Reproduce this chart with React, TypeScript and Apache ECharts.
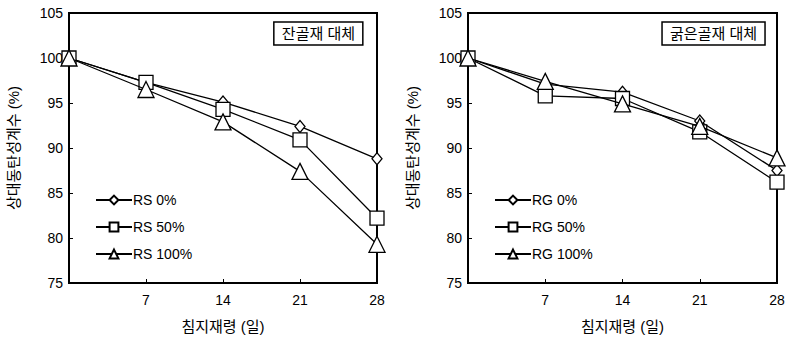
import React, { useEffect, useRef } from "react";
import * as echarts from "echarts";

const days = [0, 7, 14, 21, 28];
const rs0 = [100, 97.3, 95.1, 92.4, 88.8];
const rs50 = [100, 97.3, 94.3, 90.9, 82.2];
const rs100 = [100, 96.5, 92.9, 87.4, 79.3];
const rg0 = [100, 97.1, 96.2, 93.0, 87.5];
const rg50 = [100, 95.8, 95.5, 91.8, 86.2];
const rg100 = [100, 97.4, 94.9, 92.4, 88.9];
const leftNames = ["RS 0%", "RS 50%", "RS 100%"];
const rightNames = ["RG 0%", "RG 50%", "RG 100%"];
const panelTitles = ["잔골재 대체", "굵은골재 대체"];
const yName = "상대동탄성계수 (%)";
const xName = "침지재령 (일)";

const FONT = "'Liberation Sans', 'Noto Sans CJK KR', sans-serif";

export default function App() {
  const ref = useRef<HTMLDivElement>(null);
  useEffect(() => {
    if (!ref.current) return;
    const chart = echarts.init(ref.current, undefined, { renderer: "svg" });
    const symbols = ["diamond", "rect", "triangle"];
    const sizes: any[] = [[10, 12], 14, 16];
    const mk = (name: string, vals: number[], i: number, idx: number) => ({
      type: "line",
      name,
      xAxisIndex: idx,
      yAxisIndex: idx,
      data: days.map((d, k) => [d, vals[k]]),
      symbol: symbols[i],
      symbolSize: sizes[i],
      showAllSymbol: true,
      lineStyle: { color: "#000", width: 1.3 },
      itemStyle: { color: "#fff", borderColor: "#000", borderWidth: 1.3 },
      z: 3 + i,
    });
    const grids = [
      { left: 69, right: 415, top: 13, bottom: 59 },
      { left: 468, right: 15, top: 13, bottom: 59 },
    ];
    const xAxis = grids.map((_, i) => ({
      type: "value",
      gridIndex: i,
      min: 0,
      max: 28,
      interval: 7,
      name: xName,
      nameLocation: "middle",
      nameGap: 36,
      nameTextStyle: { color: "#000", fontSize: 15, fontFamily: FONT },
      axisLine: { lineStyle: { color: "#000", width: 2 } },
      axisTick: { inside: true, length: 4, lineStyle: { color: "#000" } },
      axisLabel: {
        color: "#000",
        fontSize: 14,
        fontFamily: FONT,
        margin: 10,
        formatter: (v: number) => (v === 0 ? "" : String(v)),
      },
      splitLine: { show: false },
    }));
    const yAxis = grids.map((_, i) => ({
      type: "value",
      gridIndex: i,
      min: 75,
      max: 105,
      interval: 5,
      name: yName,
      nameLocation: "middle",
      nameGap: 48,
      nameTextStyle: { color: "#000", fontSize: 15, fontFamily: FONT },
      axisLine: { lineStyle: { color: "#000", width: 2 } },
      axisTick: { inside: true, length: 4, lineStyle: { color: "#000" } },
      axisLabel: { color: "#000", fontSize: 14, fontFamily: FONT, margin: 6 },
      splitLine: { show: false },
    }));
    const legendBase = {
      orient: "vertical",
      top: 188,
      itemWidth: 36,
      itemHeight: 11,
      itemGap: 13,
      textStyle: { color: "#000", fontSize: 14, fontFamily: FONT, padding: [0, 0, 0, -4] },
    };
    chart.setOption({
      animation: false,
      backgroundColor: "#fff",
      grid: grids.map((g) => ({ ...g, show: true, borderColor: "#000", borderWidth: 2 })),
      xAxis,
      yAxis,
      title: panelTitles.map((t, i) => ({
        text: t,
        right: i === 0 ? 429 : 27,
        top: 22,
        borderColor: "#000",
        borderWidth: 1.5,
        padding: [4, 8, 4, 8],
        textStyle: { color: "#000", fontSize: 15, fontWeight: "normal", fontFamily: FONT },
      })),
      legend: [
        { ...legendBase, data: leftNames, left: 90 },
        { ...legendBase, data: rightNames, left: 489 },
      ],
      series: [
        mk(leftNames[0], rs0, 0, 0),
        mk(leftNames[1], rs50, 1, 0),
        mk(leftNames[2], rs100, 2, 0),
        mk(rightNames[0], rg0, 0, 1),
        mk(rightNames[1], rg50, 1, 1),
        mk(rightNames[2], rg100, 2, 1),
      ],
    });
    return () => chart.dispose();
  }, []);
  return <div ref={ref} style={{ width: 792, height: 342, position: "absolute", left: 0, top: 0 }} />;
}
